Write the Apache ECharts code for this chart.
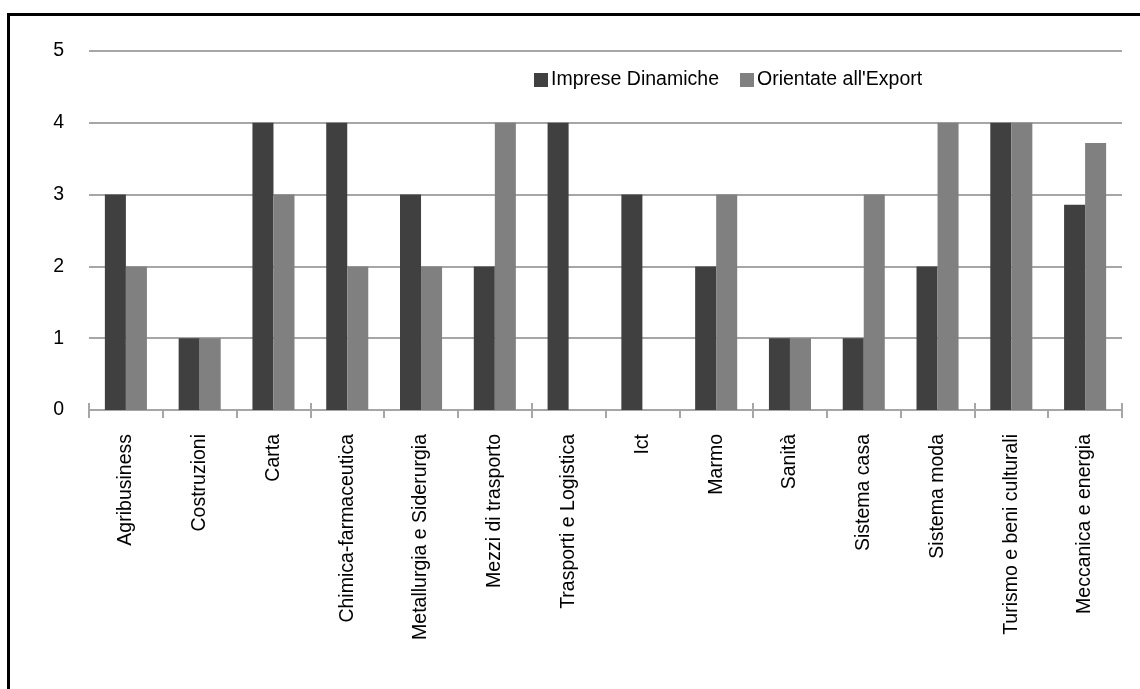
<!DOCTYPE html>
<html>
<head>
<meta charset="utf-8">
<script src="https://cdn.jsdelivr.net/npm/echarts@6/dist/echarts.min.js"></script>
<style>
  html, body { margin: 0; padding: 0; background: #fff; }
  #chart { width: 1140px; height: 689px; }
  #frame {
    position: absolute; left: 7px; top: 13px; width: 1200px; height: 760px;
    border-top: 3px solid #000; border-left: 3px solid #000; pointer-events: none;
  }
</style>
</head>
<body>
<div id="chart"></div>
<div id="frame"></div>
<script>
const categories = [
  "Agribusiness", "Costruzioni", "Carta", "Chimica-farmaceutica",
  "Metallurgia e Siderurgia", "Mezzi di trasporto", "Trasporti e Logistica",
  "Ict", "Marmo", "Sanità", "Sistema casa", "Sistema moda",
  "Turismo e beni culturali", "Meccanica e energia"
];
const impreseDinamiche = [3, 1, 4, 4, 3, 2, 4, 3, 2, 1, 1, 2, 4, 2.86];
const orientateExport = [2, 1, 3, 2, 2, 4, 0, 0, 3, 1, 3, 4, 4, 3.72];

const font = "'Liberation Sans', Arial, sans-serif";
const gridGray = "#a6a6a6";

const chart = echarts.init(document.getElementById("chart"));
chart.setOption({
  animation: false,
  textStyle: { fontFamily: font },
  legend: {
    left: 529,
    top: 65,
    itemWidth: 14,
    itemHeight: 14,
    itemGap: 21,
    icon: "rect",
    textStyle: { fontSize: 19.5, color: "#000", fontFamily: font, padding: [0, 0, 0, -2] },
    data: ["Imprese Dinamiche", "Orientate all'Export"]
  },
  grid: { left: 89, right: 18, top: 51, bottom: 279, containLabel: false },
  xAxis: [
    {
      type: "category",
      data: categories,
      axisLine: { lineStyle: { color: gridGray, width: 2 } },
      axisTick: { show: true, length: 8, lineStyle: { color: gridGray, width: 2 } },
      axisLabel: {
        rotate: 90, interval: 0, margin: 24,
        fontSize: 19.5, color: "#000", fontFamily: font
      }
    },
    {
      type: "category",
      data: categories,
      position: "bottom",
      axisLine: { show: false },
      axisTick: { show: true, inside: true, length: 7, lineStyle: { color: gridGray, width: 2 } },
      axisLabel: { show: false }
    }
  ],
  yAxis: {
    type: "value",
    min: 0,
    max: 5,
    interval: 1,
    axisLine: { show: false },
    axisTick: { show: false },
    axisLabel: { fontSize: 19.5, color: "#000", margin: 25, fontFamily: font },
    splitLine: { lineStyle: { color: gridGray, width: 2 } }
  },
  series: [
    {
      name: "Imprese Dinamiche",
      type: "bar",
      data: impreseDinamiche,
      barGap: "0%",
      barCategoryGap: "43%",
      itemStyle: { color: "#404040" }
    },
    {
      name: "Orientate all'Export",
      type: "bar",
      data: orientateExport,
      barGap: "0%",
      barCategoryGap: "43%",
      itemStyle: { color: "#808080" }
    }
  ]
});
</script>
</body>
</html>
